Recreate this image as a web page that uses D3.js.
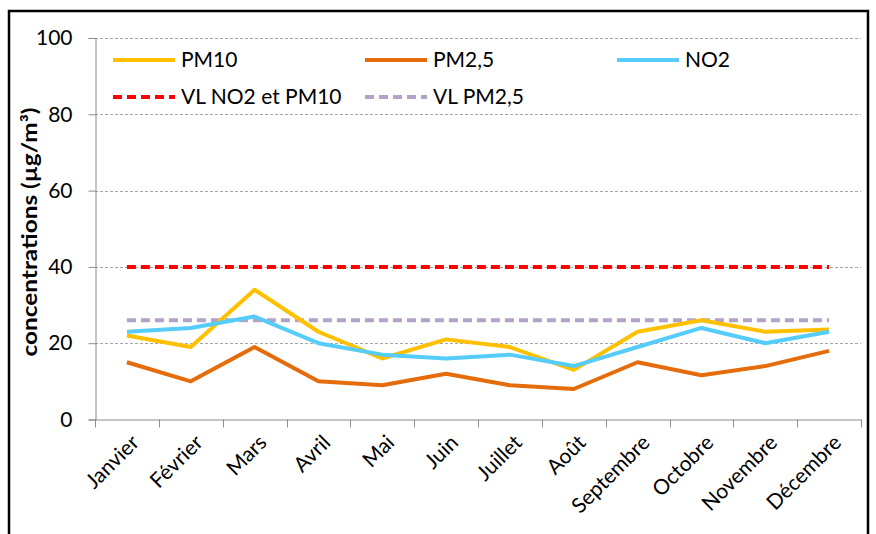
<!DOCTYPE html>
<html><head><meta charset="utf-8">
<script src="https://cdn.jsdelivr.net/npm/d3@7/dist/d3.min.js"></script>
<style>body{margin:0;background:#fff}svg{display:block}</style>
</head><body><svg width="876" height="534"></svg>
<script>
const months = ["Janvier","Février","Mars","Avril","Mai","Juin","Juillet","Août","Septembre","Octobre","Novembre","Décembre"];
const pm10 = [22,19,34,23,16,21,19,13,23,26,23,23.6];
const pm25 = [15,10,19,10,9,12,9,8,15,11.6,14,18];
const no2 = [23,24,27,20,17,16,17,14,19,24,20,23];
const vlNo2Pm10 = [40,40,40,40,40,40,40,40,40,40,40,40];
const vlPm25 = [26,26,26,26,26,26,26,26,26,26,26,26];
const yTicks = [0,20,40,60,80,100];

const series = [
  {name:"PM10", values:pm10, color:"#FFC000", dash:null},
  {name:"PM2,5", values:pm25, color:"#E46C0A", dash:null},
  {name:"NO2", values:no2, color:"#55CCF9", dash:null},
  {name:"VL NO2 et PM10", values:vlNo2Pm10, color:"#FF0000", dash:"9,5"},
  {name:"VL PM2,5", values:vlPm25, color:"#B3A2C7", dash:"9,5"}
];

const svg = d3.select("svg");
const font = "Lato, 'Open Sans', sans-serif";
const L=95, R=861, T=38, B=419.5;
const x = d3.scaleBand().domain(months).range([L,R]);
const y = d3.scaleLinear().domain([0,100]).range([B,T]);

// frame
svg.append("rect").attr("x",9).attr("y",11).attr("width",859).attr("height",560)
  .attr("fill","none").attr("stroke","#000").attr("stroke-width",2.5);

// grid
svg.append("g").selectAll("line").data(yTicks.filter(d=>d>0)).join("line")
  .attr("x1",L).attr("x2",R).attr("y1",d=>Math.round(y(d))+0.5).attr("y2",d=>Math.round(y(d))+0.5)
  .attr("stroke","#a6a6a6").attr("stroke-width",1).attr("stroke-dasharray","3,2");

// y axis
const ya = svg.append("g").attr("transform",`translate(${L+0.5},0)`)
  .call(d3.axisLeft(y).tickValues(yTicks).tickSize(7).tickPadding(16));
ya.select(".domain").attr("stroke","#8c8c8c");
ya.selectAll(".tick line").attr("stroke","#8c8c8c");
ya.selectAll(".tick text").attr("font-family",font).attr("font-size",21).attr("fill","#000");

// x axis
const xa = svg.append("g").attr("transform",`translate(0,${B})`)
  .call(d3.axisBottom(x).tickSize(0).tickPadding(0));
xa.select(".domain").attr("stroke","#8c8c8c").attr("stroke-width",1.2);
xa.selectAll(".tick text").remove();
const bounds = months.map(m=>x(m)).concat([R]);
svg.append("g").selectAll("line").data(bounds).join("line")
  .attr("x1",d=>Math.round(d)+0.5).attr("x2",d=>Math.round(d)+0.5).attr("y1",B).attr("y2",B+8)
  .attr("stroke","#8c8c8c");
svg.append("g").selectAll("text").data(months).join("text")
  .attr("transform",d=>`translate(${x(d)+x.bandwidth()/2+3},${B+14}) rotate(-45)`)
  .attr("text-anchor","end").attr("font-family",font).attr("font-size",21).attr("fill","#000")
  .attr("dy","0.7em").text(d=>d);

// y label
svg.append("text").attr("transform","translate(37,232) rotate(-90)")
  .attr("text-anchor","middle").attr("font-family",font).attr("font-weight","bold")
  .attr("font-size",21).attr("fill","#000")
  .attr("textLength",249).attr("lengthAdjust","spacingAndGlyphs").text("concentrations (µg/m³)");

// lines
const line = d3.line().x((d,i)=>x(months[i])+x.bandwidth()/2).y(d=>y(d));
const drawOrder = [4,3,0,1,2];
svg.append("g").selectAll("path").data(drawOrder.map(i=>series[i])).join("path")
  .attr("d",s=>line(s.values)).attr("fill","none").attr("stroke",s=>s.color)
  .attr("stroke-width",4).attr("stroke-dasharray",s=>s.dash).attr("stroke-linejoin","round");

// legend
const legPos = [[113,60],[365,60],[617,60],[113,97],[365,97]];
const lg = svg.append("g").selectAll("g").data(series).join("g")
  .attr("transform",(s,i)=>`translate(${legPos[i][0]},${legPos[i][1]})`);
lg.append("line").attr("x1",0).attr("x2",62).attr("y1",0).attr("y2",0)
  .attr("stroke",s=>s.color).attr("stroke-width",4).attr("stroke-dasharray",s=>s.dash);
lg.append("text").attr("x",68).attr("y",0).attr("dy","0.35em").attr("font-family",font)
  .attr("font-size",21).attr("fill","#000").text(s=>s.name);
</script>
</body></html>
